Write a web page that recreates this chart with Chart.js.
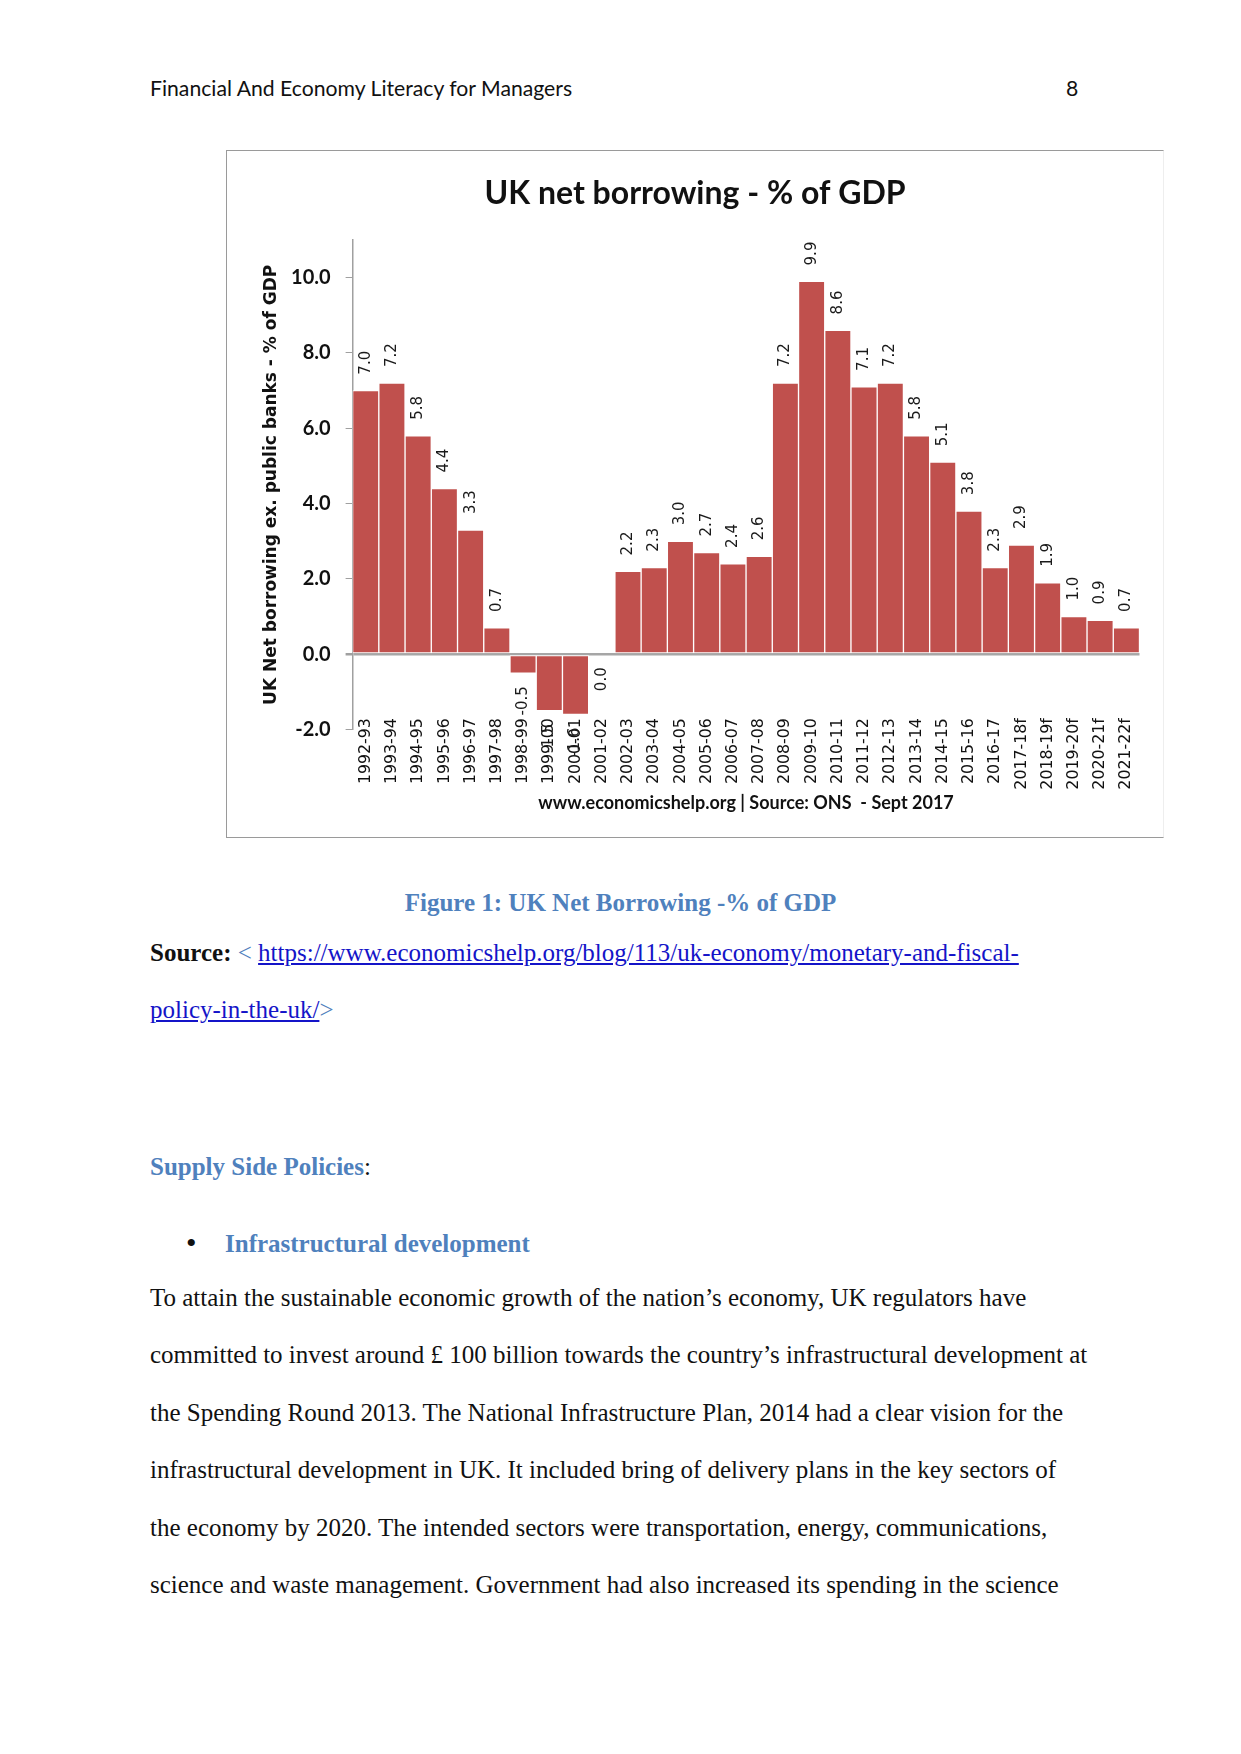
<!DOCTYPE html>
<html>
<head>
<meta charset="utf-8">
<script src="https://cdn.jsdelivr.net/npm/chart.js@4.4.1/dist/chart.umd.min.js"></script>
<style>
  html, body { margin: 0; padding: 0; background: #fff; }
  body { width: 1241px; height: 1754px; position: relative; overflow: hidden; }
  .abs { position: absolute; white-space: nowrap; }
  .hdr { font-family: Lato, "Open Sans", sans-serif; font-size: 21.2px; color: #111; line-height: 30px; }
  .serif { font-family: "Liberation Serif", "Times New Roman", serif; font-size: 25px; line-height: 30px; color: #111; }
  .blue { color: #4F81BD; font-weight: bold; }
  .link { color: #1414C8; text-decoration: underline; }
  #box { position: absolute; left: 226px; top: 150px; width: 938px; height: 688px;
         border-top: 1.5px solid #9a9a9a; border-left: 1.5px solid #9a9a9a; border-bottom: 1.5px solid #9a9a9a; border-right: 1px solid #eeeeee; box-sizing: border-box; }
  #chartCanvas { position: absolute; left: 226px; top: 150px; }
</style>
</head>
<body>
<div class="abs hdr" style="left:150px; top:73px;">Financial And Economy Literacy for Managers</div>
<div class="abs hdr" style="left:1066px; top:73px;">8</div>

<div id="box"></div>
<canvas id="chartCanvas" width="938" height="688"></canvas>

<div class="abs serif" style="left:0; width:1241px; text-align:center; top:888px;"><span class="blue">Figure 1: UK Net Borrowing -% of GDP</span></div>
<div class="abs serif" style="left:150px; top:938px;"><b>Source:</b> <span style="color:#4F81BD">&lt;</span> <span class="link">https://www.economicshelp.org/blog/113/uk-economy/monetary-and-fiscal-</span></div>
<div class="abs serif" style="left:150px; top:995px;"><span class="link">policy-in-the-uk/</span><span style="color:#4F81BD">&gt;</span></div>

<div class="abs serif" style="left:150px; top:1152px;"><span class="blue">Supply Side Policies</span>:</div>
<div class="abs serif" style="left:186px; top:1228px; font-size:30px;">&#8226;</div>
<div class="abs serif" style="left:225px; top:1229px;"><span class="blue">Infrastructural development</span></div>

<div class="abs serif" style="left:150px; top:1283px;">To attain the sustainable economic growth of the nation’s economy, UK regulators have</div>
<div class="abs serif" style="left:150px; top:1340px;">committed to invest around £ 100 billion towards the country’s infrastructural development at</div>
<div class="abs serif" style="left:150px; top:1398px;">the Spending Round 2013. The National Infrastructure Plan, 2014 had a clear vision for the</div>
<div class="abs serif" style="left:150px; top:1455px;">infrastructural development in UK. It included bring of delivery plans in the key sectors of</div>
<div class="abs serif" style="left:150px; top:1513px;">the economy by 2020. The intended sectors were transportation, energy, communications,</div>
<div class="abs serif" style="left:150px; top:1570px;">science and waste management. Government had also increased its spending in the science</div>

<script>
const categories = ['1992-93','1993-94','1994-95','1995-96','1996-97','1997-98','1998-99','1999-00','2000-01','2001-02',
  '2002-03','2003-04','2004-05','2005-06','2006-07','2007-08','2008-09','2009-10','2010-11','2011-12',
  '2012-13','2013-14','2014-15','2015-16','2016-17','2017-18f','2018-19f','2019-20f','2020-21f','2021-22f'];
const borrowing = [7.0, 7.2, 5.8, 4.4, 3.3, 0.7, -0.5, -1.5, -1.6, 0.0,
  2.2, 2.3, 3.0, 2.7, 2.4, 2.6, 7.2, 9.9, 8.6, 7.1,
  7.2, 5.8, 5.1, 3.8, 2.3, 2.9, 1.9, 1.0, 0.9, 0.7];
const yMin = -2;
const yMax = 11;
const yStep = 2;
const chartTitle = 'UK net borrowing - % of GDP';
const yTitle = 'UK Net borrowing ex. public banks - % of GDP';
const xTitle = 'www.economicshelp.org | Source: ONS  - Sept 2017';

const valueLabels = {
  id: 'valueLabels',
  afterDatasetsDraw(chart) {
    const ctx = chart.ctx;
    const meta = chart.getDatasetMeta(0);
    ctx.save();
    ctx.font = '15px "DejaVu Sans", Verdana, sans-serif';
    ctx.fillStyle = '#1a1a1a';
    ctx.textBaseline = 'middle';
    meta.data.forEach((bar, i) => {
      const v = chart.data.datasets[0].data[i];
      const txt = v.toFixed(1);
      ctx.save();
      if (v > 0) {
        ctx.translate(bar.x, bar.y - 16);
        ctx.rotate(-Math.PI / 2);
        ctx.textAlign = 'left';
      } else {
        ctx.translate(bar.x, bar.y + 13);
        ctx.rotate(-Math.PI / 2);
        ctx.textAlign = 'right';
      }
      ctx.fillText(txt, 0, 0);
      ctx.restore();
    });
    ctx.restore();
  }
};

new Chart(document.getElementById('chartCanvas'), {
  type: 'bar',
  data: {
    labels: categories,
    datasets: [{
      data: borrowing,
      backgroundColor: '#C0504D',
      borderColor: '#ffffff',
      borderWidth: 1,
      borderSkipped: false,
      barPercentage: 1.0,
      categoryPercentage: 1.0
    }]
  },
  options: {
    responsive: false,
    animation: false,
    devicePixelRatio: 1,
    layout: { padding: 0 },
    plugins: {
      legend: { display: false },
      tooltip: { enabled: false },
      title: {
        display: true,
        text: chartTitle,
        color: '#111',
        font: { family: 'Lato, "Open Sans", sans-serif', size: 32, weight: 'bold', lineHeight: 1.2 },
        padding: { top: 24, bottom: 27.6 }
      }
    },
    scales: {
      x: {
        grid: { display: false, drawTicks: false },
        border: { display: false },
        ticks: {
          autoSkip: false, maxRotation: 90, minRotation: 90,
          padding: -11.5,
          color: '#111',
          font: { family: '"DejaVu Sans", Verdana, sans-serif', size: 15.8 }
        },
        title: {
          display: true, text: xTitle, color: '#111',
          font: { family: 'Lato, "Open Sans", sans-serif', size: 18, weight: 'bold', lineHeight: 1.2 },
          padding: { top: 0, bottom: 24 }
        },
        afterFit(scale) {
          scale.height = 108.4;
          scale._computeLabelArea = function () { return undefined; };
        }
      },
      y: {
        min: yMin, max: yMax,
        ticks: {
          stepSize: yStep, includeBounds: false, padding: 15,
          color: '#111',
          font: { family: 'Lato, "Open Sans", sans-serif', size: 20, weight: 'bold' },
          callback: (v) => Number(v).toFixed(1)
        },
        grid: {
          drawOnChartArea: true,
          tickLength: 7,
          tickColor: '#a0a0a0',
          color: (c) => (c.tick && c.tick.value === 0) ? '#a6a6a6' : 'rgba(0,0,0,0)',
          lineWidth: (c) => (c.tick && c.tick.value === 0) ? 2.5 : 1
        },
        border: { display: true, color: '#a0a0a0', width: 1.5 },
        title: {
          display: true, text: yTitle, color: '#111',
          font: { family: '"DejaVu Sans", Verdana, sans-serif', size: 17, weight: 'bold', lineHeight: 1.2 },
          padding: { top: 35, bottom: 0 }
        },
        afterFit(scale) { scale.width = 126.6; }
      },
      yRight: {
        position: 'right',
        display: true,
        min: yMin, max: yMax,
        grid: { display: false, drawTicks: false },
        border: { display: false },
        ticks: { display: false },
        afterFit(scale) { scale.width = 24.5; }
      }
    }
  },
  plugins: [valueLabels]
});
</script>
</body>
</html>
